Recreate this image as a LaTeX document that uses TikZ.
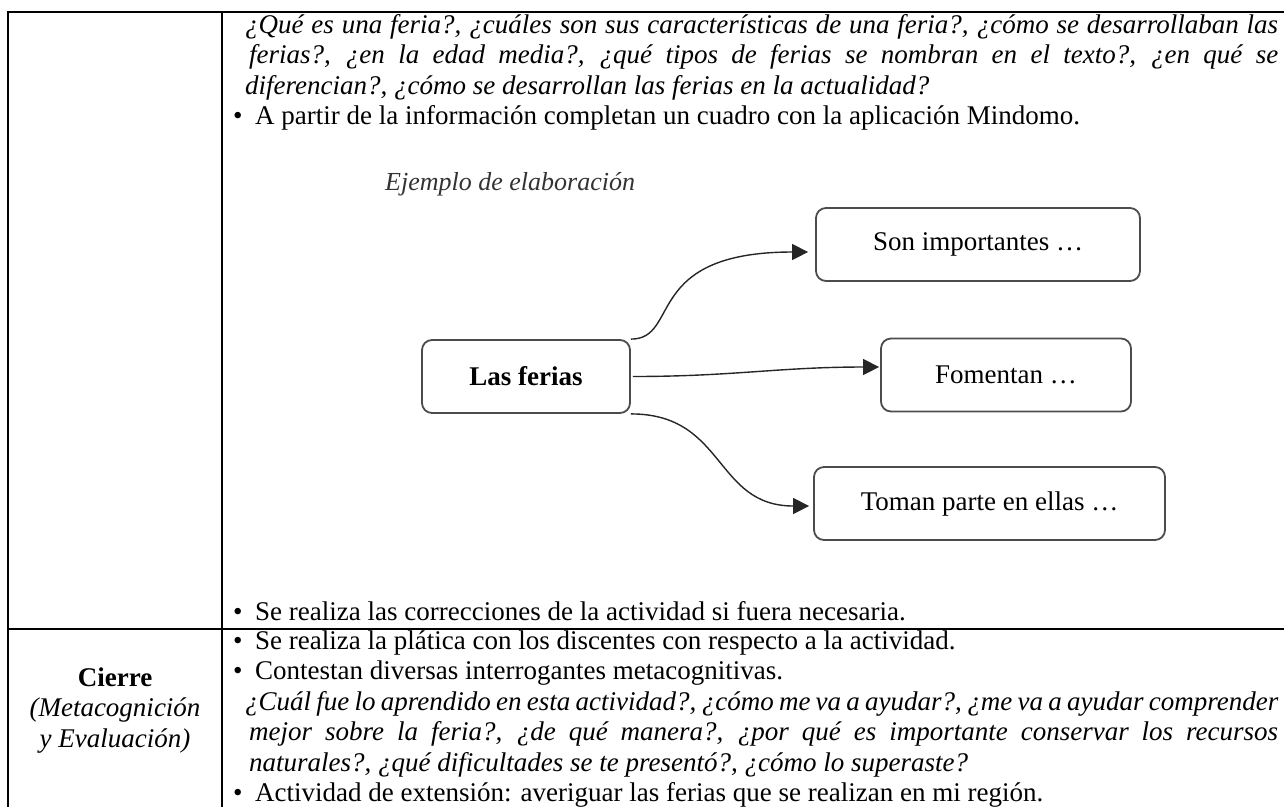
\documentclass[tikz,border=0pt]{standalone}
\usepackage{fontspec}
\setmainfont{Liberation Serif}
\usetikzlibrary{arrows.meta}

\newcommand{\dotitem}{\makebox[22pt][l]{•}}

\tikzset{
	rule/.style={line width=2.5pt},
	txt/.style={anchor=base west, inner sep=0pt, font=\fontsize{27}{30.5}\selectfont},
	side/.style={anchor=base, inner sep=0pt, font=\fontsize{27}{30.5}\selectfont},
	idea/.style={draw=black!70, line width=1.8pt, rounded corners=10pt, minimum height=73pt, inner sep=0pt, font=\fontsize{27}{30}\selectfont},
	link/.style={line width=1.4pt, black!85, -{Triangle[length=16pt,width=16pt]}},
}

\begin{document}
\begin{tikzpicture}[x=1pt,y=-1pt]
	\useasboundingbox (0,0) rectangle (1284,807) ;

	% tabla
	\draw[rule] (1284,12) -- (8,12) -- (8,807) ;
	\draw[rule] (222,12) -- (222,807) ;
	\draw[rule] (8,629) -- (1284,629) ;

	% celda superior
	\node[txt] (q1) at (245,33) {\itshape\makebox[1033pt][s]{¿Qué es una feria?, ¿cuáles son sus características de una feria?, ¿cómo se desarrollaban las}} ;
	\node[txt] (q2) at (249,63.5) {\itshape\makebox[1029pt][s]{ferias?, ¿en la edad media?, ¿qué tipos de ferias se nombran en el texto?, ¿en qué se}} ;
	\node[txt] (q3) at (245,94) {\itshape diferencian?, ¿cómo se desarrollan las ferias en la actualidad?} ;
	\node[txt] (mindomo) at (233,124.5) {\dotitem A partir de la información completan un cuadro con la aplicación Mindomo.} ;

	% mapa
	\node[anchor=base west, inner sep=0pt, text=black!80, font=\itshape\fontsize{26}{28}\selectfont] (ejemplo) at (385,190) {Ejemplo de elaboración} ;
	\node[idea, minimum width=208pt, font=\bfseries\fontsize{27}{30}\selectfont] (ferias) at (526,376.5) {Las ferias} ;
	\node[idea, minimum width=324pt] (son) at (978,244.5) {Son importantes …} ;
	\node[idea, minimum width=250pt] (fomentan) at (1006,375) {Fomentan …} ;
	\node[idea, minimum width=351pt] (toman) at (989.5,503.5) {Toman parte en ellas …} ;

	\draw[link] (ferias.north east) .. controls +(50,0) and +(-166,0) .. ([xshift=-7pt,yshift=-7.5pt]son.west) ;
	\draw[link] ([xshift=2pt]ferias.east) .. controls +(100,0) and +(-100,0) .. ([xshift=-1pt,yshift=8pt]fomentan.west) ;
	\draw[link] (ferias.south east) .. controls +(95,0) and +(-95,0) .. ([xshift=-4pt,yshift=-2.5pt]toman.west) ;

	\node[txt] (correc) at (233,620) {\dotitem Se realiza las correcciones de la actividad si fuera necesaria.} ;

	% celda inferior
	\node[side, font=\bfseries\fontsize{27}{30.5}\selectfont] (cierre) at (115,686) {Cierre} ;
	\node[side, font=\itshape\fontsize{27}{30.5}\selectfont] (meta) at (115,716.5) {(Metacognición} ;
	\node[side, font=\itshape\fontsize{27}{30.5}\selectfont] (eval) at (115,747) {y Evaluación)} ;

	\node[txt] (platica) at (233,649) {\dotitem Se realiza la plática con los discentes con respecto a la actividad.} ;
	\node[txt] (contestan) at (233,679.5) {\dotitem Contestan diversas interrogantes metacognitivas.} ;
	\node[txt] (c1) at (245,710) {\itshape\makebox[1033pt][s]{¿Cuál fue lo aprendido en esta actividad?, ¿cómo me va a ayudar?, ¿me va a ayudar comprender}} ;
	\node[txt] (c2) at (249,740.5) {\itshape\makebox[1029pt][s]{mejor sobre la feria?, ¿de qué manera?, ¿por qué es importante conservar los recursos}} ;
	\node[txt] (c3) at (249,771) {\itshape naturales?, ¿qué dificultades se te presentó?, ¿cómo lo superaste?} ;
	\node[txt] (extension) at (233,801.5) {\dotitem Actividad de extensión: averiguar las ferias que se realizan en mi región.} ;
\end{tikzpicture}
\end{document}
